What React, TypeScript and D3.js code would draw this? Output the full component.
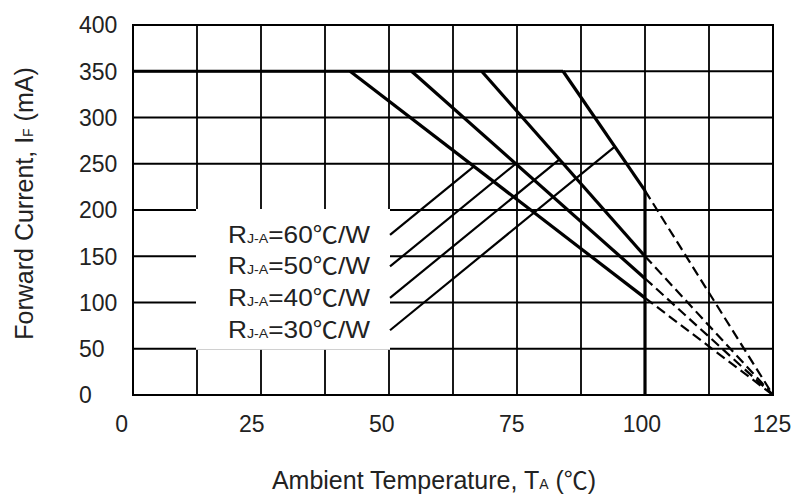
import React from "react";
import * as d3 from "d3";

// ---- data ----
const resistances = [60, 50, 40, 30]; // R J-A (°C/W)
const kneeTemps = [42.4, 54.4, 68.1, 84.0]; // °C where derating starts
const currentsAt100 = [105, 126, 150, 221]; // mA at TA = 100 °C
const maxCurrent = 350; // mA
const maxTemp = 125; // °C (current reaches zero)
const cutoffTemp = 100; // °C
const xTicks = [0, 25, 50, 75, 100, 125];
const yTicks = [0, 50, 100, 150, 200, 250, 300, 350, 400];
const labelAnchorTemp = 50.2;
const labelAnchorCurrents = [173, 139, 105, 70];
const leaderSlope = 4.52; // mA per °C
const labelBoxTemps = [12.5, 50];
const labelBoxCurrents = [50, 200];

const W = 797;
const H = 500;
const FONT = "'Liberation Sans', Arial, Helvetica, sans-serif";

export default function App() {
  const x = d3.scaleLinear().domain([0, 125]).range([133, 773]);
  const y = d3.scaleLinear().domain([0, 400]).range([395, 25]);
  const xLabel = d3.scaleLinear().domain([0, 125]).range([121.7, 772]);

  const xGrid = d3.range(0, 125.01, 12.5);
  const yGrid = yTicks;

  const line = d3
    .line<[number, number]>()
    .x((d) => x(d[0]))
    .y((d) => y(d[1]));

  const curves = resistances.map((r, i) => {
    const solid: [number, number][] = [
      [kneeTemps[i], maxCurrent],
      [cutoffTemp, currentsAt100[i]],
    ];
    const dashed: [number, number][] = [
      [cutoffTemp, currentsAt100[i]],
      [maxTemp, 0],
    ];
    const k = kneeTemps[i];
    const cs = (maxCurrent - currentsAt100[i]) / (cutoffTemp - k);
    const Is = labelAnchorCurrents[i];
    const Ts = labelAnchorTemp;
    const T = (maxCurrent + cs * k - Is + leaderSlope * Ts) / (cs + leaderSlope);
    const I = Is + leaderSlope * (T - Ts);
    const leader: [number, number][] = [
      [Ts, Is],
      [T, I],
    ];
    return { r, solid, dashed, leader, Is, Ts };
  });

  const maxKnee = d3.max(kneeTemps) as number;
  const maxAt100 = d3.max(currentsAt100) as number;

  return (
    <svg
      width={W}
      height={H}
      style={{ position: "absolute", left: 0, top: 0, background: "#fff" }}
      fontFamily={FONT}
    >
      <rect x={0} y={0} width={W} height={H} fill="#fff" />
      {/* grid */}
      <g stroke="#000" strokeWidth={1.8}>
        {xGrid.map((t) => (
          <line key={"gx" + t} x1={x(t)} x2={x(t)} y1={y(0)} y2={y(400)} />
        ))}
        {yGrid.map((v) => (
          <line key={"gy" + v} x1={x(0)} x2={x(125)} y1={y(v)} y2={y(v)} />
        ))}
      </g>
      {/* label box masking grid */}
      <rect
        x={x(labelBoxTemps[0]) - 1}
        y={y(labelBoxCurrents[1]) - 1}
        width={x(labelBoxTemps[1]) - x(labelBoxTemps[0]) + 2}
        height={y(labelBoxCurrents[0]) - y(labelBoxCurrents[1]) + 2}
        fill="#fff"
      />
      {/* border */}
      <rect
        x={x(0)}
        y={y(400)}
        width={x(125) - x(0)}
        height={y(0) - y(400)}
        fill="none"
        stroke="#000"
        strokeWidth={2}
      />
      {/* dashed extensions */}
      <g fill="none" stroke="#000" strokeWidth={2.2} strokeDasharray="10,5">
        {curves.map((c) => (
          <path key={"d" + c.r} d={line(c.dashed) || ""} />
        ))}
      </g>
      {/* leader lines */}
      <g fill="none" stroke="#000" strokeWidth={2.2}>
        {curves.map((c) => (
          <path key={"l" + c.r} d={line(c.leader) || ""} />
        ))}
      </g>
      {/* solid derating curves */}
      <g fill="none" stroke="#000" strokeWidth={3.2} strokeLinejoin="round">
        <path
          d={
            line([
              [0, maxCurrent],
              [maxKnee, maxCurrent],
            ]) || ""
          }
        />
        {curves.map((c) => (
          <path key={"s" + c.r} d={line(c.solid) || ""} />
        ))}
        <path
          d={
            line([
              [cutoffTemp, 0],
              [cutoffTemp, maxAt100],
            ]) || ""
          }
        />
      </g>
      {/* curve labels */}
      <g fontSize={24} fill="#222">
        {curves.map((c) => (
          <text
            key={"t" + c.r}
            x={x(c.Ts) - 162}
            y={y(c.Is) + 8}
            textAnchor="start"
            textLength={142}
            lengthAdjust="spacingAndGlyphs"
          >
            R<tspan fontSize={13}>J-A</tspan>={c.r}
            <tspan fontFamily="'Noto Sans CJK SC', sans-serif" fontSize={23}>
              ℃
            </tspan>
            /W
          </text>
        ))}
      </g>
      {/* y tick labels */}
      <g fontSize={23} fill="#222">
        {yTicks.map((v) => (
          <text key={"yt" + v} x={79} y={y(v)} dy="0.36em" textAnchor="start">
            {v}
          </text>
        ))}
      </g>
      {/* x tick labels */}
      <g fontSize={23} fill="#222">
        {xTicks.map((t) => (
          <text key={"xt" + t} x={xLabel(t)} y={432} textAnchor="middle">
            {t}
          </text>
        ))}
      </g>
      {/* axis titles */}
      <text x={434} y={489} textAnchor="middle" fontSize={25} fill="#222">
        Ambient Temperature, T<tspan fontSize={14}>A</tspan> (
        <tspan fontFamily="'Noto Sans CJK SC', sans-serif" fontSize={24}>
          ℃
        </tspan>
        )
      </text>
      <text
        transform={`translate(33, 203.5) rotate(-90)`}
        textAnchor="middle"
        fontSize={25}
        fill="#222"
      >
        Forward Current, I<tspan fontSize={14}>F</tspan> (mA)
      </text>
    </svg>
  );
}
